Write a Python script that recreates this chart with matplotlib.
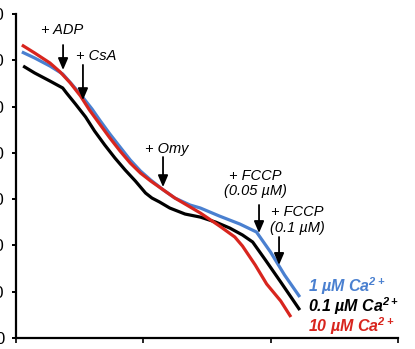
import matplotlib
matplotlib.use("Agg")
import matplotlib.pyplot as plt

plt.rcParams['font.family'] = ['Liberation Sans', 'DejaVu Sans']
plt.rcParams['mathtext.fontset'] = 'custom'
plt.rcParams['mathtext.rm'] = 'Liberation Sans:italic:bold'
plt.rcParams['mathtext.it'] = 'Liberation Sans:italic:bold'
plt.rcParams['mathtext.bf'] = 'Liberation Sans:italic:bold'

# oxygen traces (time in min, O2 in nmol/ml)
t_blue = [0.5, 1.5, 2.7, 3.7, 4.4, 5.2, 6.0, 6.6, 7.4, 8.2, 9.0, 9.8, 10.6, 11.6,
          12.5, 13.7, 14.5, 16.0, 17.6, 18.9, 20.0, 21.1, 22.3]
o2_blue = [309.0, 302.5, 293.8, 285.2, 274.4, 261.4, 247.4, 235.5, 220.4, 206.3,
           192.3, 180.4, 170.7, 159.9, 151.2, 143.6, 140.4, 131.7, 123.1, 114.5,
           92.9, 68.1, 44.3]
t_black = [0.6, 1.5, 2.7, 3.7, 4.0, 4.7, 5.5, 6.2, 7.0, 7.8, 8.6, 9.4, 10.2, 10.7,
           11.3, 12.1, 13.3, 14.5, 15.7, 16.8, 17.8, 18.6, 19.6, 20.8, 22.3]
o2_black = [293.8, 286.3, 277.6, 270.1, 264.7, 252.8, 238.7, 223.6, 208.5, 194.4,
            181.5, 169.6, 156.6, 151.2, 146.9, 140.4, 133.9, 130.6, 125.2, 118.8,
            111.3, 103.7, 84.3, 60.5, 30.2]
t_red = [0.5, 1.5, 2.7, 3.5, 4.3, 5.1, 5.8, 6.6, 7.4, 8.2, 9.0, 9.8, 10.6, 11.6,
         12.5, 13.7, 14.5, 16.0, 17.2, 17.8, 18.8, 19.7, 20.8, 21.6]
o2_red = [316.5, 307.9, 297.1, 287.4, 275.5, 261.4, 246.3, 231.2, 216.1, 202.0,
          189.0, 178.2, 169.6, 159.9, 151.2, 141.5, 135.0, 121.0, 109.1, 99.4,
          78.9, 58.3, 40.0, 22.7]

yticks = [0, 50, 100, 150, 200, 250, 300, 350]
xticks = [0, 10, 20, 30]

# additions: (label, arrow x, arrow top, arrow tip, text x, text y)
additions = [
    ("+ ADP", 3.73, 316.5, 289.5, 3.65, 332.7),
    ("+ CsA", 5.29, 295.0, 257.0, 6.3, 304.6),
    ("+ Omy", 11.57, 195.5, 163.0, 11.9, 204.2),
    ("+ FCCP\n(0.05 µM)", 19.1, 143.7, 113.4, 18.8, 166.5),
    ("+ FCCP\n(0.1 µM)", 20.67, 109.1, 78.9, 22.1, 127.5),
]

blue = '#4a80d0'
red = '#d8251e'

fig = plt.figure(figsize=(4.15, 3.49), dpi=100)
ax = fig.add_axes([15.5 / 415, 11 / 349, (398 - 15.5) / 415, (338 - 14) / 349])
ax.plot(t_blue, o2_blue, color=blue, lw=2.3, solid_capstyle='butt')
ax.plot(t_black, o2_black, color='black', lw=2.3, solid_capstyle='butt')
ax.plot(t_red, o2_red, color=red, lw=2.3, solid_capstyle='butt')

for lab, ax_x, y0, y1, tx, ty in additions:
    ax.annotate("", xy=(ax_x, y1), xytext=(ax_x, y0),
                arrowprops=dict(arrowstyle='-|>,head_length=0.7,head_width=0.3',
                                color='black', lw=1.3, shrinkA=0, shrinkB=0))
    ax.text(tx, ty, lab, fontsize=10.5, style='italic', ha='center', va='center',
            linespacing=1.1)

ax.text(22.95, 55.6, r'1 µM Ca$^{2+}$', color=blue, fontsize=11.5, fontweight='bold',
        style='italic', va='center')
ax.text(22.95, 34.0, r'0.1 µM Ca$^{2+}$', color='black', fontsize=11.5, fontweight='bold',
        style='italic', va='center')
ax.text(22.95, 12.4, r'10 µM Ca$^{2+}$', color=red, fontsize=11.5, fontweight='bold',
        style='italic', va='center')

ax.set_xlim(0, 30)
ax.set_ylim(0, 350)
ax.set_xticks(xticks)
ax.set_xticklabels([])
ax.set_yticks(yticks)
ax.set_yticklabels([str(v) for v in yticks])
ax.tick_params(axis='y', direction='out', length=3, width=1.4, pad=5, labelsize=12)
ax.tick_params(axis='x', direction='out', length=3.5, width=1.2)
for s in ['top', 'right']:
    ax.spines[s].set_visible(False)
for s in ['left', 'bottom']:
    ax.spines[s].set_linewidth(1.6)

fig.savefig("out.png", dpi=100)
